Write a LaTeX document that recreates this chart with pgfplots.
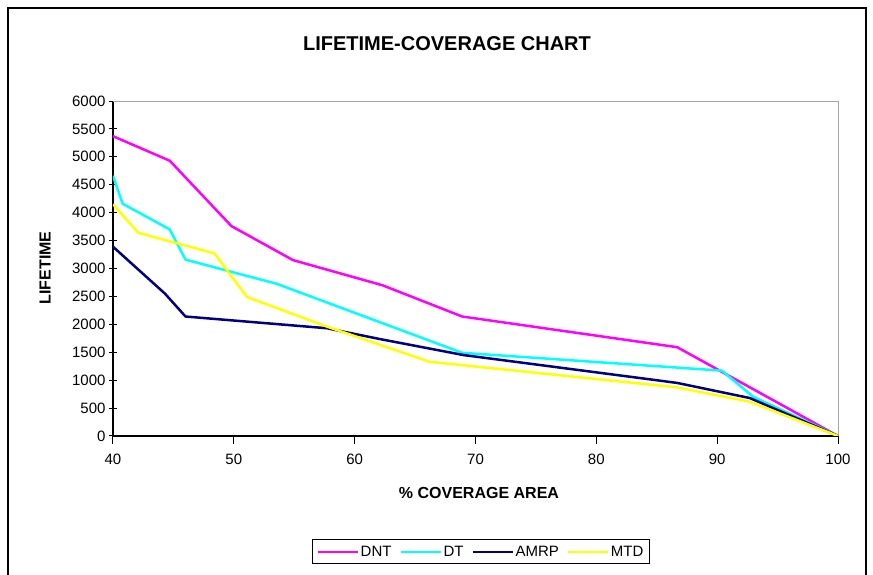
\documentclass[border=0pt]{standalone}
\usepackage{fontspec}
\setmainfont{Liberation Sans}
\usepackage{pgfplots}
\pgfplotsset{compat=1.18}

\definecolor{cDNT}{HTML}{FF00FF}
\definecolor{cDT}{HTML}{00FFFF}
\definecolor{cAMRP}{HTML}{000080}
\definecolor{cMTD}{HTML}{FFFF00}

\begin{document}
\begin{tikzpicture}[x=1pt,y=1pt]
\useasboundingbox (0,0) rectangle (873,575);
% chart frame (bottom edge is off the picture)
\draw[line width=1.2pt] (8,-10) -- (8,567) -- (866,567) -- (866,-10);

\node[font=\fontsize{20}{24}\selectfont\bfseries] at (447,531) {LIFETIME-COVERAGE CHART};
\node[font=\fontsize{16}{19}\selectfont\bfseries, rotate=90] at (45,307) {LIFETIME};
\node[font=\fontsize{16}{19}\selectfont\bfseries] at (479,82) {\% COVERAGE AREA};

\begin{axis}[
    at={(113pt,139pt)}, anchor=south west,
    width=725pt, height=335pt, scale only axis,
    xmin=40, xmax=100, ymin=0, ymax=6000,
    xtick={40,50,...,100},
    ytick={0,500,...,6000},
    axis x line*=bottom, axis y line*=left,
    axis line style={line width=1.2pt, black, -},
    xtick align=outside, ytick align=center,
    major tick length=8pt,
    tick style={line width=1pt, black},
    ticklabel style={font=\fontsize{15}{18}\selectfont},
    /pgf/number format/assume math mode=true,
    scaled y ticks=false,
    yticklabel style={/pgf/number format/1000 sep={}},
    xticklabel style={yshift=-6pt},
    extra description/.code={
        \draw[gray!70, line width=1pt] (rel axis cs:0,1) -- (rel axis cs:1,1) -- (rel axis cs:1,0);
    },
    legend columns=4,
    legend style={at={(0.5076,-0.346)}, anchor=center, draw=black, line width=1pt,
        font=\fontsize{15}{18}\selectfont, inner sep=4pt,
        /tikz/every even column/.append style={column sep=6pt}},
    legend image code/.code={\draw[#1, line width=2pt] (0pt,0pt) -- (40pt,0pt);},
    every axis plot/.append style={line width=2.5pt, line join=round},
]
\addplot[cDNT] coordinates {(40,5370) (44.7,4930) (49.8,3760) (54.9,3150) (62.3,2700) (68.9,2140) (86.7,1590) (100,0)};
\addplot[cDT] coordinates {(40,4660) (40.8,4160) (44.7,3700) (46,3160) (50.5,2900) (53.5,2730) (68.9,1490) (90.4,1170) (93,700) (100,0)};
\addplot[cAMRP] coordinates {(40,3390) (44.3,2550) (46,2140) (57.7,1930) (62,1740) (69,1450) (84.6,1010) (86.7,950) (92.7,680) (100,0)};
\addplot[cMTD] coordinates {(40,4150) (42.1,3640) (48.4,3270) (51.1,2490) (57.7,1960) (66.2,1330) (86.7,870) (92.7,615) (100,0)};
\legend{DNT, DT, AMRP, MTD}
\end{axis}
\end{tikzpicture}
\end{document}
